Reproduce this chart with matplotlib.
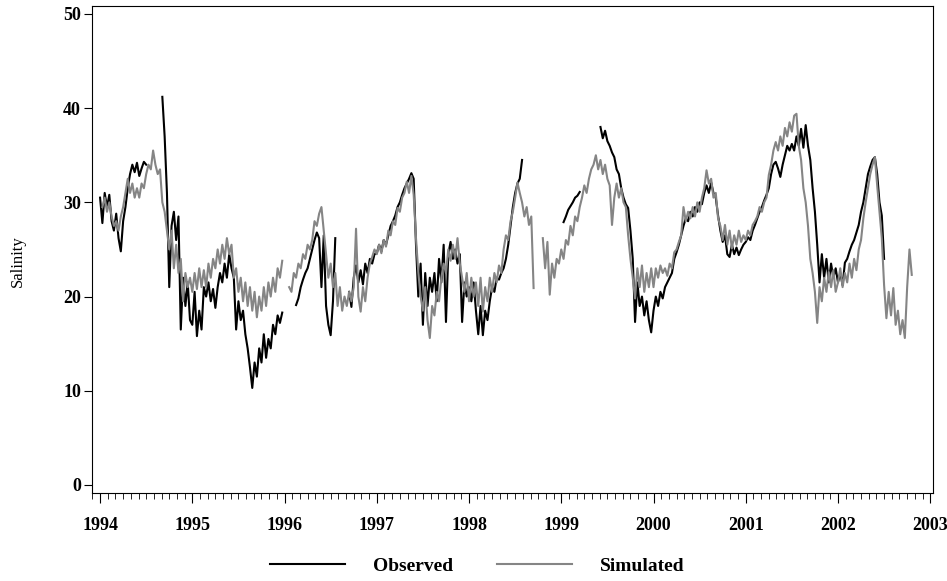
import numpy as np
import matplotlib
matplotlib.use("Agg")
import matplotlib.pyplot as plt
from matplotlib.ticker import MultipleLocator

nan = np.nan

# salinity samples, 40 per year (every 0.025 yr), nan = no record
obs_1994 = [30.5, 27.8, 31.0, 29.5, 30.8, 28.0, 27.0, 28.8, 26.2, 24.8,
            28.0, 29.5, 31.5, 33.0, 34.0, 33.2, 34.2, 32.8, 33.6, 34.3,
            34.0, nan, nan, nan, nan, nan, nan, 41.2, 37.0, 31.0,
            21.0, 27.5, 29.0, 26.0, 28.5, 16.5, 22.0, 19.0, 21.5, 17.5]
obs_1995 = [17.0, 20.5, 15.8, 18.5, 16.5, 21.0, 20.0, 21.5, 19.5, 20.8,
            18.8, 21.0, 22.5, 21.5, 23.5, 22.0, 24.5, 23.0, 22.0, 16.5,
            19.5, 17.5, 18.5, 16.0, 14.5, 12.5, 10.3, 13.0, 11.5, 14.5,
            13.0, 16.0, 13.5, 15.5, 14.5, 17.0, 16.0, 18.0, 17.2, 18.3]
obs_1996 = [nan, nan, nan, nan, nan, 19.1, 19.8, 21.0, 21.8, 22.5,
            23.0, 24.0, 25.0, 26.0, 26.8, 26.2, 21.0, 26.5, 19.0, 17.0,
            15.9, 19.5, 26.2, nan, nan, nan, nan, nan, 20.5, 18.9,
            22.0, 23.3, 21.5, 22.8, 21.3, 23.5, 22.5, 24.0, 23.5, 24.5]
obs_1997 = [24.6, 25.5, 24.8, 26.0, 25.5, 26.5, 27.5, 28.0, 28.6, 29.5,
            30.0, 30.8, 31.5, 32.0, 32.5, 33.1, 32.5, 25.5, 20.0, 23.5,
            17.0, 22.5, 19.0, 22.0, 20.5, 22.5, 19.5, 24.0, 21.5, 25.5,
            17.3, 24.5, 25.8, 24.0, 25.0, 23.5, 24.5, 17.3, 21.5, 20.0]
obs_1998 = [21.0, 19.5, 21.5, 18.5, 16.0, 19.0, 15.9, 18.5, 17.5, 19.5,
            21.0, 20.5, 22.0, 21.8, 22.5, 23.0, 24.0, 25.5, 27.5, 29.5,
            31.0, 32.0, 32.5, 34.5, nan, nan, nan, nan, nan, nan,
            nan, nan, nan, nan, nan, nan, nan, nan, nan, nan]
obs_1999 = [nan, 27.9, 28.5, 29.2, 29.6, 30.0, 30.5, 30.7, 31.1, nan,
            nan, nan, nan, nan, nan, nan, nan, 38.0, 36.8, 37.6,
            36.5, 36.0, 35.3, 34.8, 33.5, 33.0, 31.5, 30.5, 29.8, 29.4,
            27.0, 24.0, 17.3, 21.5, 19.0, 20.0, 18.0, 19.5, 17.5, 16.2]
obs_2000 = [18.5, 20.0, 19.0, 20.5, 19.8, 21.0, 21.5, 22.0, 22.5, 24.0,
            24.7, 25.5, 26.5, 27.5, 28.3, 28.0, 29.0, 28.5, 29.5, 29.0,
            30.0, 29.8, 31.0, 31.8, 31.0, 32.1, 31.0, 30.5, 28.6, 27.0,
            25.8, 26.5, 24.5, 24.2, 25.5, 24.5, 25.2, 24.4, 25.0, 25.5]
obs_2001 = [25.8, 26.3, 26.0, 27.0, 27.6, 28.3, 29.0, 29.5, 30.2, 30.8,
            31.5, 33.0, 34.0, 34.3, 33.6, 32.7, 34.0, 35.0, 36.0, 35.5,
            36.2, 35.5, 37.0, 36.0, 37.8, 35.8, 38.2, 36.0, 34.5, 31.5,
            29.0, 25.5, 21.5, 24.5, 22.0, 24.0, 21.5, 23.5, 22.0, 23.0]
obs_2002 = [21.5, 22.5, 21.2, 23.6, 24.0, 24.8, 25.5, 26.0, 26.8, 27.6,
            29.0, 30.0, 31.5, 33.0, 33.8, 34.5, 34.8, 33.0, 30.0, 28.6,
            24.0, nan, nan, nan, nan, nan, nan, nan, nan, nan,
            nan, nan, nan, nan, nan, nan, nan, nan, nan, nan]

sim_1994 = [nan, 29.5, 30.5, 29.0, 30.0, 28.5, 27.5, 28.0, 27.0, 28.5,
            29.5, 31.0, 32.5, 31.0, 32.0, 30.5, 31.5, 30.5, 32.0, 31.5,
            33.0, 34.0, 33.5, 35.5, 34.0, 33.0, 33.5, 30.0, 29.0, 27.0,
            25.0, 27.0, 23.0, 25.5, 22.5, 24.0, 19.5, 22.5, 21.0, 22.0]
sim_1995 = [20.5, 22.5, 20.8, 23.0, 21.0, 22.8, 21.0, 23.5, 22.0, 24.0,
            23.0, 25.0, 23.5, 25.5, 24.0, 26.2, 24.5, 25.5, 22.0, 23.0,
            20.5, 22.0, 19.5, 21.5, 19.0, 21.0, 18.5, 20.5, 17.8, 20.0,
            18.5, 21.0, 19.0, 21.5, 20.0, 22.0, 20.5, 23.0, 22.0, 23.8]
sim_1996 = [nan, nan, 21.0, 20.5, 22.5, 22.0, 23.5, 23.0, 24.5, 24.0,
            25.5, 25.0, 26.0, 28.0, 27.5, 28.8, 29.5, 27.0, 24.5, 22.0,
            23.5, 21.0, 22.5, 19.0, 21.0, 18.5, 20.0, 19.0, 20.5, 19.5,
            21.0, 27.2, 20.0, 18.4, 21.0, 19.5, 22.0, 23.5, 24.2, 25.0]
sim_1997 = [24.5, 25.5, 24.6, 26.0, 25.3, 27.0, 26.5, 28.0, 27.6, 29.4,
            29.0, 30.5, 31.0, 32.2, 31.0, 32.8, 30.8, 26.2, 22.6, 20.0,
            18.5, 21.0, 17.5, 15.6, 19.0, 18.0, 20.5, 19.5, 22.0, 23.5,
            22.5, 25.0, 23.8, 25.5, 24.0, 26.2, 23.5, 22.0, 20.5, 22.5]
sim_1998 = [19.5, 22.0, 20.0, 21.5, 19.0, 22.0, 18.4, 21.0, 19.5, 22.0,
            20.5, 22.5, 21.5, 23.3, 22.5, 25.0, 26.5, 26.0, 28.0, 29.0,
            30.5, 32.1, 31.0, 30.0, 28.5, 29.5, 27.6, 28.5, 20.9, nan,
            nan, nan, 26.2, 23.0, 25.8, 20.2, 23.5, 22.0, 24.0, 23.5]
sim_1999 = [25.0, 24.0, 26.0, 25.5, 27.5, 26.5, 28.5, 28.0, 29.5, 30.5,
            31.8, 31.0, 32.5, 33.5, 34.0, 35.0, 33.5, 34.5, 33.0, 34.0,
            32.5, 31.8, 27.6, 30.5, 32.0, 30.5, 31.5, 30.0, 29.5, 26.5,
            24.0, 22.0, 19.8, 23.0, 21.0, 23.3, 20.5, 22.5, 21.0, 23.0]
sim_2000 = [21.0, 23.0, 22.0, 23.3, 22.5, 23.0, 22.2, 23.5, 23.0, 24.7,
            25.0, 25.8, 26.5, 29.5, 28.0, 29.0, 28.3, 29.5, 28.5, 30.0,
            29.0, 30.5, 31.5, 33.4, 32.0, 32.5, 30.5, 31.0, 28.3, 27.5,
            26.0, 27.6, 25.5, 27.0, 25.1, 26.5, 25.5, 27.0, 25.8, 26.5]
sim_2001 = [26.0, 27.0, 26.5, 27.6, 28.0, 28.5, 29.5, 29.0, 30.0, 30.5,
            32.9, 34.0, 35.5, 36.4, 35.5, 37.0, 36.0, 37.9, 37.0, 38.5,
            37.5, 39.2, 39.4, 36.0, 34.5, 31.5, 30.0, 27.5, 24.0, 22.5,
            20.5, 17.2, 21.0, 19.5, 22.0, 20.5, 22.6, 21.0, 22.8, 20.5]
sim_2002 = [21.5, 23.0, 21.0, 22.5, 21.5, 23.5, 22.0, 24.0, 22.8, 25.0,
            26.0, 28.3, 30.0, 31.5, 33.0, 34.0, 34.8, 31.8, 29.0, 26.2,
            21.2, 17.7, 20.5, 18.0, 20.9, 17.0, 18.5, 16.0, 17.5, 15.6,
            21.0, 25.0, 22.3, nan, nan, nan, nan, nan, nan, nan]

years = [1994, 1995, 1996, 1997, 1998, 1999, 2000, 2001, 2002]
observed = np.concatenate([obs_1994, obs_1995, obs_1996, obs_1997, obs_1998,
                           obs_1999, obs_2000, obs_2001, obs_2002])
simulated = np.concatenate([sim_1994, sim_1995, sim_1996, sim_1997, sim_1998,
                            sim_1999, sim_2000, sim_2001, sim_2002])
t = years[0] + np.arange(len(observed)) / 40.0

plt.rcParams['font.family'] = ['Liberation Serif', 'DejaVu Serif']
plt.rcParams['font.weight'] = 'bold'

fig = plt.figure(figsize=(9.47, 5.81), dpi=100)
ax = fig.add_axes([0.0972, 0.1515, 0.888, 0.8383])

ax.plot(t, observed, color='black', lw=1.5, label='Observed')
ax.plot(t, simulated, color='#858585', lw=1.5, label='Simulated')

ax.set_xlim(1993.913, 2003.03)
ax.set_ylim(-0.85, 50.85)
ax.set_xticks(np.arange(1994, 2004))
ax.set_xticklabels([str(y) for y in range(1994, 2004)])
ax.xaxis.set_minor_locator(MultipleLocator(1 / 12))
ax.set_yticks([0, 10, 20, 30, 40, 50])

ax.tick_params(axis='both', direction='out', labelsize=13, width=0.8)
ax.tick_params(axis='x', which='major', length=7, pad=10)
ax.tick_params(axis='x', which='minor', length=4, width=0.6)
ax.tick_params(axis='y', length=6, pad=2)
for s in ax.spines.values():
    s.set_linewidth(0.8)

fig.text(0.019, 0.55, 'Salinity', rotation=90, ha='center', va='center',
         fontsize=12, fontweight='normal')

fig.legend(loc='center', bbox_to_anchor=(0.504, 0.026), ncol=2,
           frameon=False, fontsize=14, handlelength=3.86,
           handletextpad=1.4, columnspacing=2.3)

fig.savefig('out.png', dpi=100)
